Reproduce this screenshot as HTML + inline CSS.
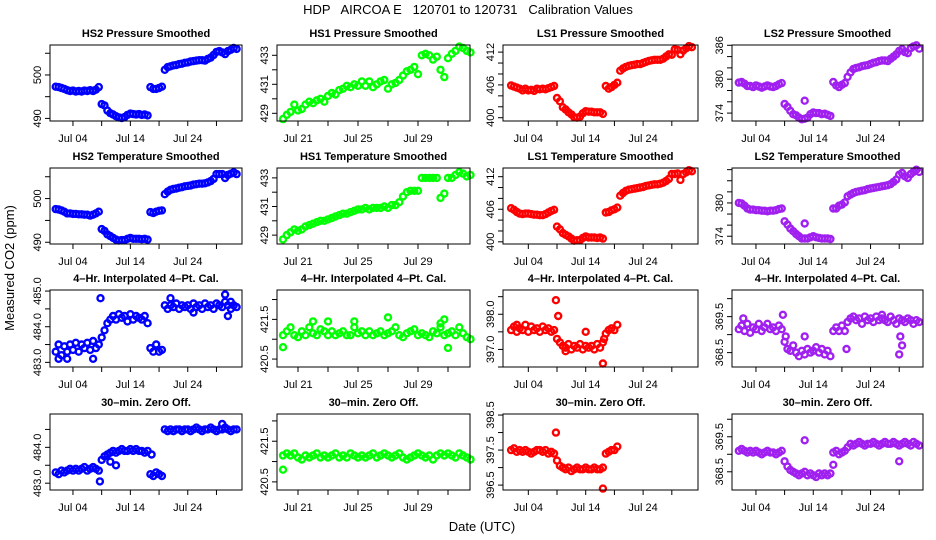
<!DOCTYPE html>
<html><head><meta charset="utf-8"><style>
html,body{margin:0;padding:0;background:#fff}
svg{display:block;font-family:"Liberation Sans",Arial,sans-serif}
</style></head><body>
<svg id="c" width="936" height="540" viewBox="0 0 936 540" xmlns="http://www.w3.org/2000/svg">
<text x="468" y="14" font-size="13" text-anchor="middle" style="white-space:pre" xml:space="preserve">HDP   AIRCOA E   120701 to 120731   Calibration Values</text>
<text x="14" y="268" font-size="13" text-anchor="middle" transform="rotate(-90 14 268)">Measured CO2 (ppm)</text>
<text x="482" y="531" font-size="13" text-anchor="middle">Date (UTC)</text>
</svg>
<script>
// x grids (day of July)
const daysA = [1,1.5,2,2.5,3,3.5,4,4.5,5,5.5,6,6.5,7,7.5,8,8.5,9,9.5,10,10.5,11,11.5,12,12.5,13,13.5,14,14.5,15,15.5,16,16.5,17,17.5,18,18.5,19,19.5,20,20.5,21,21.5,22,22.5,23,23.5,24,24.5,25,25.5,26,26.5,27,27.5,28,28.5,29,29.5,30,30.5,31,31.5,32,32.5];
const daysB = [20,20.25,20.5,20.75,21,21.25,21.5,21.75,22,22.25,22.5,22.75,23,23.25,23.5,23.75,24,24.25,24.5,24.75,25,25.25,25.5,25.75,26,26.25,26.5,26.75,27,27.25,27.5,27.75,28,28.25,28.5,28.75,29,29.25,29.5,29.75,30,30.25,30.5,30.75,31,31.25,31.5,31.75,32,32.25,32.5];
const N = null;
const titles = ["HS2 Pressure Smoothed","HS1 Pressure Smoothed","LS1 Pressure Smoothed","LS2 Pressure Smoothed","HS2 Temperature Smoothed","HS1 Temperature Smoothed","LS1 Temperature Smoothed","LS2 Temperature Smoothed","4\u2013Hr. Interpolated 4\u2013Pt. Cal.","4\u2013Hr. Interpolated 4\u2013Pt. Cal.","4\u2013Hr. Interpolated 4\u2013Pt. Cal.","4\u2013Hr. Interpolated 4\u2013Pt. Cal.","30\u2013min. Zero Off.","30\u2013min. Zero Off.","30\u2013min. Zero Off.","30\u2013min. Zero Off."];
const xTickDaysA = [4,9,14,19,24,29];
const xTickLabelsA = ["Jul 04","","Jul 14","","Jul 24",""];
const xTickDaysB = [21,23,25,27,29,31];
const xTickLabelsB = ["Jul 21","","Jul 25","","Jul 29",""];
const yDomains = [[489.4,506.9],[428.47,433.71],[399.4,413.3],[372.6,386.05],[489.6,507.0],[428.38,433.69],[399.6,413.6],[372.6,386.3],[482.87,485.03],[420.3,422.24],[396.5,398.69],[368.1,370.24],[482.81,484.93],[420.3,422.17],[396.36,398.53],[367.98,370.15]];
const yTicks = [[490,495,500,505],[429,430,431,432,433],[400,402,404,406,408,410,412],[374,376,378,380,382,384,386],[490,495,500,505],[429,430,431,432,433],[400,402,404,406,408,410,412],[374,376,378,380,382,384,386],[483,483.5,484,484.5,485],[420.5,421,421.5,422],[396.5,397,397.5,398,398.5],[368.5,369,369.5,370],[483,483.5,484,484.5],[420.5,421,421.5,422],[396.5,397,397.5,398,398.5],[368.5,369,369.5,370]];
const yTickLabels = [["490","","500",""],["429","","431","","433"],["400","","","406","","","412"],["374","","","380","","","386"],["490","","500",""],["429","","431","","433"],["400","","","406","","","412"],["374","","","380","","","",""],["483.0","","484.0","","485.0"],["420.5","","421.5",""],["","397.0","","398.0",""],["368.5","","369.5",""],["483.0","","484.0",""],["420.5","","421.5",""],["396.5","","397.5","","398.5"],["368.5","","369.5",""]];
const v1 = [497.3,497.2,497,496.8,496.5,496.3,496.4,496.2,496.3,496.2,496.4,496.3,496.5,496.3,496.6,497.2, 493.3,493,491.8,491.2,490.9,490.5,490.2,490.1,490.3,490.8,491.1,491,490.9,491,490.8,490.9,490.7, 497.2,496.8,496.8,497,497.3, 501.2,501.8,502,502.2,502.3,502.5,502.6,502.8,502.9,503.1,503.2,503.3,503.4,503.4,503.3,503.7,504,504.6,505.3,505.5,505.2,504.8,505.5,505.8,506.2,506];
const v2 = [428.6,428.9,429.1,429.6,429.2,429.3,429.6,429.8,429.7,429.9,430,429.8,430.2,430.4,430.3,430.6,430.7,430.9,430.8,431,430.9,431.2,430.9,431.2,430.8,431,431.2,431.3,430.7,431,431.1,431.3,431.6,431.9,432,432.2,431.7,433,433.1,433,432.7,432.9,432,431.5,432.8,433.1,433.3,433.6,433.5,433.3,433.2];
const v3 = [405.9,405.7,405.5,405.3,405,405.3,405,405.1,404.9,405.3,405.2,405.3,405.2,405.4,405.6,405.8, 403.6,403,401.9,401.5,401,400.6,400.1,400,400.2,400.8,401.2,401.1,401.1,401,401,401,400.7, 405.8,405.3,405.6,406,406.4, 408.6,409,409.3,409.5,409.6,409.7,409.8,409.8,410,410.2,410.4,410.5,410.6,410.6,410.6,410.8,411.2,411.6,411.5,412.5,412.4,411.6,412.3,412.7,413.1,412.9];
const v4 = [379.4,379.5,379.2,378.8,378.8,378.6,378.9,378.7,378.5,378.7,378.9,378.7,378.6,378.8,379.1,379.3, 375.6,375.1,374.4,373.8,373.6,373.2,372.9,373,373.2,373.8,374.1,374,374,373.8,373.9,373.7,373.5, 379.5,378.9,378.6,379,379.3, 380.4,381.2,381.8,382,382.1,382.3,382.4,382.5,382.7,382.9,383,383.2,383.3,383.3,383.2,383.6,384,384.4,385,385.3,384.8,384.6,385.5,385.8,386,385.4];
const v5 = [497.6,497.5,497.3,497,496.6,496.6,496.5,496.5,496.4,496.4,496.3,496.3,496.1,496.3,496.6,497, 493,492.6,491.8,491.4,491,490.6,490.4,490.5,490.5,490.8,491,490.8,490.8,490.8,490.7,490.8,490.6, 496.9,496.7,497,497.2,497.3, 501,501.6,502,502.2,502.3,502.5,502.6,502.8,502.9,503,503.2,503.3,503.4,503.4,503.5,503.7,504,504.5,505.6,505.6,505.6,504.7,505.4,505.7,506,505.6];
const v6 = [428.7,429,429.2,429.4,429.3,429.4,429.6,429.7,429.8,429.9,430,430,430.1,430.2,430.3,430.4,430.5,430.5,430.6,430.7,430.8,430.8,430.9,430.8,430.9,430.9,430.9,431,430.9,431.1,431.1,431.3,431.7,432,432.1,432.1,432.1,433,433,433,433,433,431.6,431.9,433,433,433.2,433.4,433.3,433.1,433.2];
const v7 = [406.2,405.9,405.5,405.2,405.1,405.2,405.2,405.1,405,405,404.9,404.9,405.1,405.4,405.7,405.9, 402.8,402.3,401.6,401.3,401,400.6,400.2,400.3,400.3,400.7,401,400.8,400.8,400.8,400.7,400.8,400.6, 405.4,405.5,405.8,406,406.3, 408.5,409,409.4,409.6,409.7,409.8,409.9,410,410.1,410.3,410.4,410.5,410.6,410.6,410.7,410.9,411.2,411.6,412.5,412.5,412.6,411.4,412.5,412.8,413.2,413];
const v8 = [380,379.9,379.5,379,378.8,378.8,378.7,378.7,378.6,378.6,378.5,378.6,378.6,378.7,378.9,379, 376.7,376.1,375.4,374.9,374.4,374,373.6,373.6,373.6,373.8,374,373.8,373.7,373.6,373.6,373.6,373.5, 379,379,379.5,379.7,380.1, 381.2,381.5,381.8,382,382.1,382.2,382.3,382.5,382.6,382.7,382.8,382.9,383,383.1,383.2,383.4,383.8,384.2,385.1,385.4,384.8,384.5,385.2,385.6,386,385.6];
const v9 = [483.3,483.5,483.2,483.45,483.3,483.5,483.35,483.55,483.3,483.5,483.4,483.55,483.35,483.6,483.4,483.5, 483.7,483.9,484.1,484.2,484.3,484.2,484.35,484.25,484.3,484.15,484.35,484.2,484.3,484.25,484.2,484.3,484.1, 483.4,483.3,483.5,483.3,483.35, 484.6,484.5,484.6,484.55,484.65,484.5,484.6,484.55,484.6,484.5,484.65,484.55,484.6,484.5,484.65,484.55,484.6,484.5,484.65,484.6,484.55,484.7,484.6,484.5,484.6,484.55];
const v10 = [421.1,421.2,421.3,421.1,421.05,421.2,421.1,421.3,421.15,421.1,421.25,421.2,421.1,421.2,421.1,421.15,421.2,421.1,421.1,421.3,421.15,421.2,421.1,421.2,421.1,421.15,421.2,421.1,421.15,421.2,421.3,421.1,421.05,421.15,421.2,421.25,421.1,421.15,421.1,421.05,421.2,421.15,421.3,421.1,421.15,421.2,421.1,421.3,421.15,421.05,421];
const v11 = [397.55,397.65,397.5,397.6,397.55,397.7,397.5,397.65,397.55,397.6,397.5,397.65,397.55,397.6,397.5,397.55, 397.3,397.2,397.1,397.05,397.15,397,397.1,397.05,397.15,397,397.1,397.05,397.1,397,397.15,397.05,397.2, 397.45,397.55,397.6,397.55,397.7, N,N,N,N,N,N,N,N,N,N,N,N,N,N,N,N,N,N,N,N,N,N,N,N,N,N];
const v12 = [369.15,369.25,369.1,369.3,369.05,369.2,369.15,369.3,369.1,369.2,369.3,369.15,369.2,369.1,369.25,369.15, 368.8,368.6,368.55,368.7,368.5,368.4,368.55,368.45,368.6,368.5,368.55,368.65,368.5,368.6,368.45,368.55,368.4, 369.1,369.2,369.1,369.25,369.1, 369.35,369.45,369.5,369.4,369.45,369.3,369.5,369.4,369.45,369.35,369.5,369.4,369.45,369.4,369.35,369.5,369.4,369.3,369.45,369.4,369.35,369.45,369.4,369.3,369.4,369.35];
const v13 = [483.3,483.25,483.35,483.3,483.35,483.4,483.35,483.4,483.35,483.4,483.45,483.35,483.4,483.45,483.4,483.35, 483.65,483.75,483.8,483.85,483.9,483.85,483.9,483.95,483.9,483.9,483.95,483.9,483.95,483.9,483.9,483.85,483.9, 483.25,483.2,483.3,483.25,483.2, 484.5,484.45,484.5,484.45,484.5,484.5,484.45,484.5,484.5,484.45,484.5,484.55,484.5,484.45,484.5,484.5,484.55,484.5,484.45,484.5,484.5,484.55,484.5,484.45,484.5,484.5];
const v14 = [421.15,421.2,421.15,421.2,421.1,421.05,421.15,421.1,421.15,421.2,421.1,421.15,421.1,421.15,421.2,421.1,421.15,421.1,421.2,421.15,421.1,421.15,421.1,421.15,421.2,421.1,421.15,421.2,421.15,421.1,421.15,421.2,421.1,421.05,421.1,421.15,421.2,421.15,421.1,421.15,421.05,421.15,421.2,421.15,421.2,421.15,421.1,421.2,421.15,421.1,421.05];
const v15 = [397.5,397.55,397.45,397.5,397.45,397.5,397.45,397.4,397.45,397.5,397.5,397.45,397.5,397.4,397.45,397.4, 397.2,397.05,397,396.95,397,396.9,396.95,397,396.95,396.95,397,396.95,396.95,397,396.95,396.95,397, 397.4,397.45,397.5,397.5,397.6, N,N,N,N,N,N,N,N,N,N,N,N,N,N,N,N,N,N,N,N,N,N,N,N,N,N];
const v16 = [369.1,369.15,369.1,369.05,369.1,369.05,369.1,369.05,369,369.05,369.1,369.05,369.05,369,369.05,369.1, 368.8,368.65,368.55,368.5,368.45,368.4,368.45,368.5,368.4,368.45,368.4,368.35,368.45,368.4,368.45,368.4,368.45, 369.05,369.1,369,369.05,369.1, 369.2,369.3,369.25,369.3,369.35,369.3,369.25,369.3,369.3,369.35,369.3,369.25,369.3,369.35,369.3,369.3,369.35,369.3,369.25,369.3,369.35,369.3,369.25,369.35,369.3,369.25];
const outDays = [[],[],[],[12.5],[],[],[],[12.5],[1.5,3,7.5,8.8,21,25,30.5,31,31.5],[20,22,23,24.75,27,30.5,30.75,31],[2,8.8,9.2,10.5,14,17,17.2],[1.8,8.7,9.2,12.5,19.8,26,29,29.2,29.5],[8.7,10.5,11.5,17.7,30],[20],[8.8,17],[12.5,17.5,29]];
const outVals = [[],[],[],[376.2],[],[],[],[376.3],[483.1,483.1,483.1,484.8,484.8,484.4,484.9,484.3,484.7],[420.8,421.45,421.45,421.45,421.55,421.4,421.5,420.78],[397.7,398.4,397.95,396.95,397.5,396.6,397.3],[369.45,369.55,368.95,368.95,368.6,369.55,368.45,368.95,368.7],[483.05,483.6,483.5,483.8,484.65],[420.8],[398.0,396.4],[369.4,368.7,368.8]];
const series = [v1,v2,v3,v4,v5,v6,v7,v8,v9,v10,v11,v12,v13,v14,v15,v16];
const colors = ["#0000ff","#00ff00","#ff0000","#a020f0"];

const svg = document.getElementById('c');
const NS = 'http://www.w3.org/2000/svg';
const colBox = [[50,242],[277,470],[503,698],[732,923]];
const colDay0 = [0,19.6,-0.41,-0.18];
const colPPD = [5.74,15,5.74,5.73];
const rowBox = [[45,121],[168,244],[290,367],[414,490]];
function mk(tag, attrs){const e=document.createElementNS(NS,tag);for(const k in attrs)e.setAttribute(k,attrs[k]);return e;}
for(let p=0;p<16;p++){
  const col=p%4,row=Math.floor(p/4);
  const [x0,x1]=colBox[col],[y0,y1]=rowBox[row];
  const g=mk('g',{});
  
  
  svg.appendChild(g);
  const xs=d=>x0+(d-colDay0[col])*colPPD[col];
  const [lo,hi]=yDomains[p];
  const ys=v=>y1-(v-lo)/(hi-lo)*(y1-y0);
  const clr=colors[col];
  const t=mk('text',{x:(x0+x1)/2,y:y0-8,'font-size':11,'font-weight':'bold','text-anchor':'middle'});
  t.textContent=titles[p];
  
  
  g.appendChild(t);
  const dd = col===1?daysB:daysA;
  const vals=series[p];
  const pts=mk('g',{fill:'none',stroke:clr,'stroke-width':2.4});
  
  
  g.appendChild(pts);
  const draw=(d,v)=>{const c=mk('circle',{cx:xs(d).toFixed(1),cy:ys(v).toFixed(1),r:3});
    
    
    pts.appendChild(c);};
  for(let i=0;i<vals.length;i++){if(vals[i]!==null)draw(dd[i],vals[i]);}
  const od=outDays[p]||[],ov=outVals[p]||[];
  for(let i=0;i<Math.min(od.length,ov.length);i++)draw(od[i],ov[i]);
  const r=mk('rect',{x:x0,y:y0,width:x1-x0,height:y1-y0,fill:'none',stroke:'#000','stroke-width':1});
  
  
  g.appendChild(r);
  const td= col===1?xTickDaysB:xTickDaysA, tl= col===1?xTickLabelsB:xTickLabelsA;
  for(let i=0;i<td.length;i++){
    const x=xs(td[i]);
    g.appendChild(mk('line',{x1:x,x2:x,y1:y1,y2:y1+5,stroke:'#000'}));
    if(tl[i]){const lt=mk('text',{x:x,y:y1+21,'font-size':11,'text-anchor':'middle'});lt.textContent=tl[i];
      
      
      g.appendChild(lt);}
  }
  const yt=yTicks[p],yl=yTickLabels[p];
  for(let i=0;i<yt.length;i++){
    const y=ys(yt[i]); if(y<y0-1||y>y1+1)continue;
    g.appendChild(mk('line',{x1:x0-5,x2:x0,y1:y,y2:y,stroke:'#000'}));
    if(yl[i]){const lt=mk('text',{x:x0-9,y:y,'font-size':11,'text-anchor':'middle',transform:`rotate(-90 ${x0-9} ${y})`});lt.textContent=yl[i];
      
      
      g.appendChild(lt);}
  }
}
</script>
</body></html>
